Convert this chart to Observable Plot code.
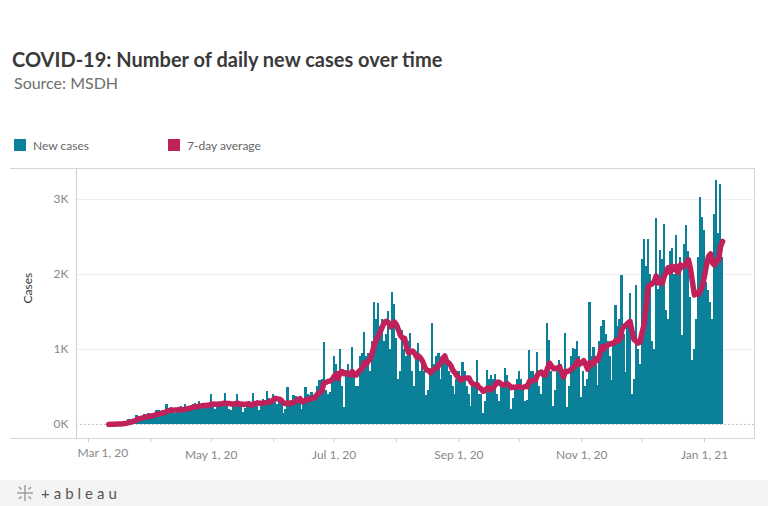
<!DOCTYPE html>
<html>
<head>
<meta charset="utf-8">
<script src="https://cdn.jsdelivr.net/npm/d3@7"></script>
<script src="https://cdn.jsdelivr.net/npm/@observablehq/plot@0.6"></script>
<style>
  html, body { margin: 0; padding: 0; background: #fff; }
  #page { position: relative; width: 768px; height: 506px; overflow: hidden; font-family: Lato, "Open Sans", sans-serif; }
  #title { position: absolute; left: 12px; top: 46px; font-size: 20px; font-weight: 700; color: #3a3a3a; line-height: 26px; white-space: nowrap; }
  #subtitle { position: absolute; left: 14px; top: 73px; font-size: 16px; color: #6e6e6e; line-height: 20px; }
  .leg { position: absolute; top: 137px; height: 16px; display: flex; align-items: center; font-size: 12px; color: #666; }
  .sw { width: 12px; height: 12px; margin-right: 7px; }
  #frame { position: absolute; left: 10px; top: 168px; width: 744px; height: 269px; border-top: 1px solid #d6d6d6; border-bottom: 1px solid #d6d6d6; border-right: 1px solid #d6d6d6; }
  #chart { position: absolute; left: 0; top: 160px; }
  #footer { position: absolute; left: 0; top: 480px; width: 768px; height: 26px; background: #f3f3f3; display: flex; align-items: center; }
  #footer span { font-size: 15px; color: #555; letter-spacing: 4px; margin-left: 6px; }
</style>
</head>
<body>
<div id="page">
  <div id="title">COVID-19: Number of daily new cases over time</div>
  <div id="subtitle">Source: MSDH</div>
  <div class="leg" style="left:14px"><div class="sw" style="background:#0a8099"></div>New cases</div>
  <div class="leg" style="left:168px"><div class="sw" style="background:#c0215b"></div>7-day average</div>
  <div id="frame"></div>
  <div id="chart"></div>
  <div id="footer">
    <svg width="20" height="20" style="margin-left:15px" viewBox="0 0 20 20">
      <g stroke="#999" stroke-width="1.4">
        <line x1="10" y1="2" x2="10" y2="18"/><line x1="2" y1="10" x2="18" y2="10"/>
        <line x1="4" y1="4" x2="6.5" y2="6.5"/><line x1="16" y1="4" x2="13.5" y2="6.5"/>
        <line x1="4" y1="16" x2="6.5" y2="13.5"/><line x1="16" y1="16" x2="13.5" y2="13.5"/>
      </g>
    </svg>
    <span>+ableau</span>
  </div>
</div>
<script>
// Daily new cases
const mar = [1,5,4,6,8,13,12,16,30,40,60,54,72,71,120,100,90,110,130,80,140]; // from Mar 11
const apr = [120,150,140,180,190,110,180,170,270,200,230,160,140,190,200,240,230,270,180,200,230,270,275,250,300,210,230,240,280,260];
const may = [400,280,200,230,260,290,310,409,260,200,187,250,300,400,280,290,164,210,260,300,290,409,300,250,180,260,330,310,444,350,260];
const jun = [400,350,260,300,280,150,200,497,250,320,380,370,300,300,200,260,497,400,380,420,300,400,500,580,600,1097,450,400,430,620];
const jul = [900,800,700,995,500,231,700,800,700,1030,650,500,500,900,950,1230,900,950,700,1100,1630,1400,1607,1300,1400,1100,1200,1500,1000,1763,1600];
const aug = [1141,600,700,1252,1000,900,1100,1208,700,500,900,1083,700,800,700,386,450,700,1350,800,900,941,600,900,897,800,700,650,500,400,600];
const sep = [700,600,830,700,500,400,240,500,550,852,400,400,151,300,719,600,650,600,666,400,300,550,500,741,650,500,200,350,500,600];
const oct = [710,600,500,300,320,986,700,700,650,963,500,400,700,700,1341,1119,700,240,450,700,850,800,700,1217,231,500,900,1008,1000,1100,900];
const nov = [355,700,500,600,1629,900,1030,800,520,1100,1300,1385,1200,1100,900,586,1100,1585,1300,1400,1985,1200,697,1300,1740,400,600,1851,1000,800];
const dec = [2200,2460,2100,2473,2000,1100,1000,2740,1800,2318,2200,2673,1518,1400,2300,2353,2000,2517,2100,2229,1185,2400,2651,2300,1696,852,1000,1400,2233,3028,2762];
const jan = [2584,1896,1785,1630,1400,2806,3259,2550,3206,2229];

const yTicks = [0, 1000, 2000, 3000];
const tickLabels = ["Mar 1, 20", "May 1, 20", "Jul 1, 20", "Sep 1, 20", "Nov 1, 20", "Jan 1, 21"];

const months = [
  [2020, 2, 11, mar], [2020, 3, 1, apr], [2020, 4, 1, may], [2020, 5, 1, jun],
  [2020, 6, 1, jul], [2020, 7, 1, aug], [2020, 8, 1, sep], [2020, 9, 1, oct],
  [2020, 10, 1, nov], [2020, 11, 1, dec], [2021, 0, 1, jan]
];
const data = [];
for (const [y, m, start, arr] of months) {
  arr.forEach((v, i) => data.push({date: new Date(Date.UTC(y, m, start + i)), cases: v}));
}

const monthTicks = d3.utcMonths(new Date(Date.UTC(2020, 2, 1)), new Date(Date.UTC(2021, 0, 2)));
const labelMap = new Map();
monthTicks.filter((d, i) => i % 2 === 0).forEach((d, i) => labelMap.set(+d, tickLabels[i]));

const TEAL = "#0a8099", RED = "#c0215b";
const HOUR = 3600 * 1000;

const chart = Plot.plot({
  width: 768,
  height: 310,
  marginLeft: 76,
  marginRight: 13,
  marginTop: 8,
  marginBottom: 32,
  style: {fontFamily: "Lato, sans-serif", fontSize: "12px", background: "transparent", overflow: "visible"},
  x: {type: "utc", domain: [new Date(Date.UTC(2020, 1, 24, 1)), new Date(Date.UTC(2021, 0, 26, 8))]},
  y: {domain: [-187, 3413]},
  marks: [
    Plot.ruleY(yTicks.filter(t => t > 0), {stroke: "#eeeeee"}),
    Plot.ruleY([0], {stroke: "#b5b5b5", strokeDasharray: "1.5,2.5"}),
    Plot.rectY(data, {
      x1: d => new Date(+d.date - 12 * HOUR),
      x2: d => new Date(+d.date + 15 * HOUR),
      y: "cases",
      fill: TEAL,
      shapeRendering: "crispEdges"
    }),
    Plot.lineY(data, Plot.windowY({k: 7, anchor: "end", reduce: "mean"}, {
      x: "date", y: "cases", stroke: RED, strokeWidth: 5.5,
      strokeLinejoin: "round", strokeLinecap: "round"
    })),
    Plot.ruleX([0], {x: () => new Date(Date.UTC(2020, 1, 24, 1)), y1: -187, y2: 3413, stroke: "#cfcfcf"}),
    Plot.axisY({ticks: yTicks, tickFormat: d => d / 1000 + "K", tickSize: 0, tickPadding: 8, label: null, fill: "#888"}),
    Plot.axisX({ticks: monthTicks, tickFormat: d => (+d === +monthTicks[0] ? "" : (labelMap.get(+d) || "")), tickSize: 4, tickPadding: 8, label: null, stroke: "#cfcfcf", fill: "#888"}),
    Plot.text([tickLabels[0]], {frameAnchor: "bottom-left", dx: 1, dy: 18, textAnchor: "start", fill: "#888", fontSize: 12}),
    Plot.text(["Cases"], {frameAnchor: "left", dx: -48, rotate: -90, fill: "#333", fontSize: 12})
  ]
});
document.getElementById("chart").appendChild(chart);
</script>
</body>
</html>
